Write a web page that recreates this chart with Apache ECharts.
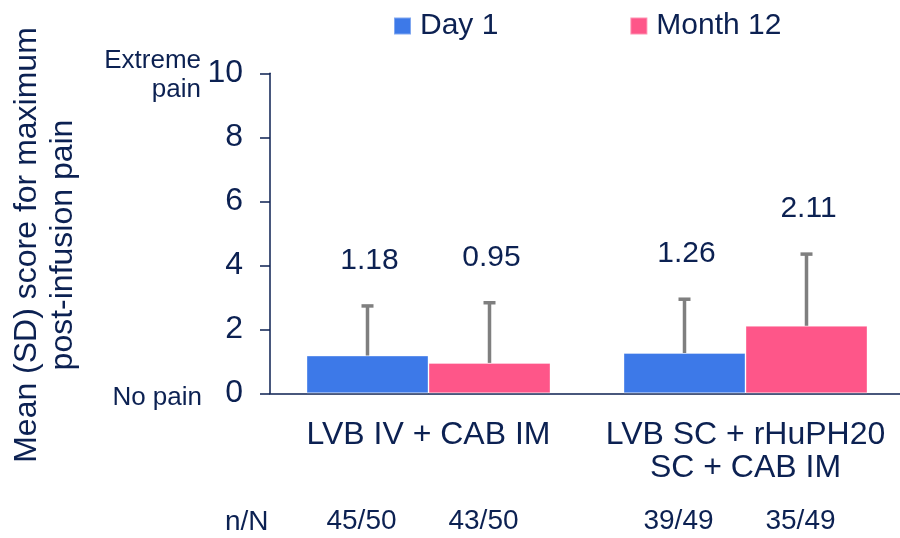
<!DOCTYPE html>
<html>
<head>
<meta charset="utf-8">
<script src="https://cdn.jsdelivr.net/npm/echarts@6/dist/echarts.min.js"></script>
<style>
  html, body { margin: 0; padding: 0; background: #ffffff; }
  #chart { width: 900px; height: 538px; }
</style>
</head>
<body>
<div id="chart"></div>
<script>
// Treatment groups on the category axis
const categories = ['LVB IV + CAB IM', 'LVB SC + rHuPH20\nSC + CAB IM'];
const seriesNames = ['Day 1', 'Month 12'];

// Mean maximum post-infusion pain score and its SD
const day1Mean = [1.18, 1.26];
const day1SD = [1.55, 1.68];
const month12Mean = [0.95, 2.11];
const month12SD = [1.88, 2.24];

// Responders / participants per bar
const day1N = ['45/50', '39/49'];
const month12N = ['43/50', '35/49'];

// Pain scale ticks and anchor wording
const yTicks = [0, 2, 4, 6, 8, 10];
const scaleLow = 'No pain';
const scaleHigh = 'Extreme\npain';
const yTitle = 'Mean (SD) score for maximum\npost-infusion pain';

const NAVY = '#0c2152';
const BLUE = '#3d79e8';
const PINK = '#fe5689';
const GREY = '#7f7f7f';
const FONT = '"Liberation Sans", Arial, sans-serif';
const BAR_W = 122;

const chart = echarts.init(document.getElementById('chart'), null, { renderer: 'canvas' });

function barSeries(name, means, counts, color) {
  return {
    name: name,
    type: 'bar',
    data: means,
    barWidth: BAR_W,
    barGap: '0%',
    itemStyle: { color: color, borderColor: 'rgba(255,255,255,0.35)', borderWidth: 1 },
    label: {
      show: true,
      position: 'bottom',
      distance: 0,
      offset: [-6, 114],
      formatter: (p) => counts[p.dataIndex],
      color: NAVY,
      fontFamily: FONT,
      fontSize: 28
    },
    emphasis: { disabled: true },
    z: 2
  };
}

// Upper SD whisker plus the mean value written above it
function errorSeries(means, sds, side) {
  return {
    type: 'custom',
    data: means.map((m, i) => [i, m, sds[i]]),
    encode: { x: 0, y: 1 },
    renderItem: (params, api) => {
      const idx = api.value(0);
      const mean = api.value(1);
      const sd = api.value(2);
      const cx = api.coord([idx, 0])[0] + side * BAR_W / 2;
      const yMean = api.coord([idx, mean])[1];
      const yTop = api.coord([idx, mean + sd])[1];
      const lineStyle = { stroke: GREY, lineWidth: 3.5 };
      return {
        type: 'group',
        children: [
          { type: 'line', shape: { x1: cx, y1: yMean, x2: cx, y2: yTop }, style: lineStyle },
          { type: 'line', shape: { x1: cx - 6, y1: yTop, x2: cx + 6, y2: yTop }, style: lineStyle },
          {
            type: 'text',
            style: {
              text: mean.toFixed(2),
              x: cx + 2,
              y: yTop - 45,
              align: 'center',
              verticalAlign: 'middle',
              fill: NAVY,
              fontFamily: FONT,
              fontSize: 30
            }
          }
        ]
      };
    },
    z: 3,
    silent: true
  };
}

const option = {
  animation: false,
  backgroundColor: '#ffffff',
  textStyle: { fontFamily: FONT, color: NAVY },
  legend: {
    data: seriesNames,
    left: 393,
    top: 11,
    padding: 0,
    icon: 'rect',
    itemWidth: 17,
    itemHeight: 17,
    itemGap: 131,
    selectedMode: false,
    textStyle: { color: NAVY, fontSize: 30, fontFamily: FONT, padding: [0, 0, 0, 4] }
  },
  grid: {
    left: 270, top: 73.3, width: 634, height: 320,
    containLabel: false,
    outerBoundsMode: 'none'
  },
  xAxis: {
    type: 'category',
    data: categories,
    axisLine: { lineStyle: { color: NAVY, width: 1.5 } },
    axisTick: { show: false },
    axisLabel: {
      interval: 0,
      hideOverlap: false,
      color: NAVY,
      fontFamily: FONT,
      fontSize: 32,
      lineHeight: 33,
      margin: 25
    }
  },
  yAxis: {
    type: 'value',
    min: yTicks[0],
    max: yTicks[yTicks.length - 1],
    interval: yTicks[1] - yTicks[0],
    axisLine: { show: true, lineStyle: { color: NAVY, width: 1.5 } },
    axisTick: { show: true, length: 10, lineStyle: { color: NAVY, width: 1.5 } },
    axisLabel: { color: NAVY, fontFamily: FONT, fontSize: 32, margin: 27 },
    splitLine: { show: false }
  },
  series: [
    barSeries(seriesNames[0], day1Mean, day1N, BLUE),
    barSeries(seriesNames[1], month12Mean, month12N, PINK),
    errorSeries(day1Mean, day1SD, -1),
    errorSeries(month12Mean, month12SD, 1)
  ]
};

chart.setOption(option);

// Axis title, scale anchor words beside the 0 and 10 ticks, and the n/N row header
const yLow = chart.convertToPixel({ yAxisIndex: 0 }, yTicks[0]);
const yHigh = chart.convertToPixel({ yAxisIndex: 0 }, yTicks[yTicks.length - 1]);
chart.setOption({
  graphic: [
    {
      type: 'text',
      x: 45,
      y: 245,
      rotation: Math.PI / 2,
      style: {
        text: yTitle, fill: NAVY, fontFamily: FONT, fontSize: 32, lineHeight: 36,
        align: 'center', verticalAlign: 'middle'
      }
    },
    {
      type: 'text',
      x: 201,
      y: yHigh + 2,
      style: {
        text: scaleHigh, fill: NAVY, fontFamily: FONT, fontSize: 26, lineHeight: 29,
        align: 'right', verticalAlign: 'middle'
      }
    },
    {
      type: 'text',
      x: 202,
      y: yLow + 5,
      style: {
        text: scaleLow, fill: NAVY, fontFamily: FONT, fontSize: 26,
        align: 'right', verticalAlign: 'middle'
      }
    },
    {
      type: 'text',
      x: 225,
      y: 522,
      style: {
        text: 'n/N', fill: NAVY, fontFamily: FONT, fontSize: 28,
        align: 'left', verticalAlign: 'middle'
      }
    }
  ]
});
</script>
</body>
</html>
